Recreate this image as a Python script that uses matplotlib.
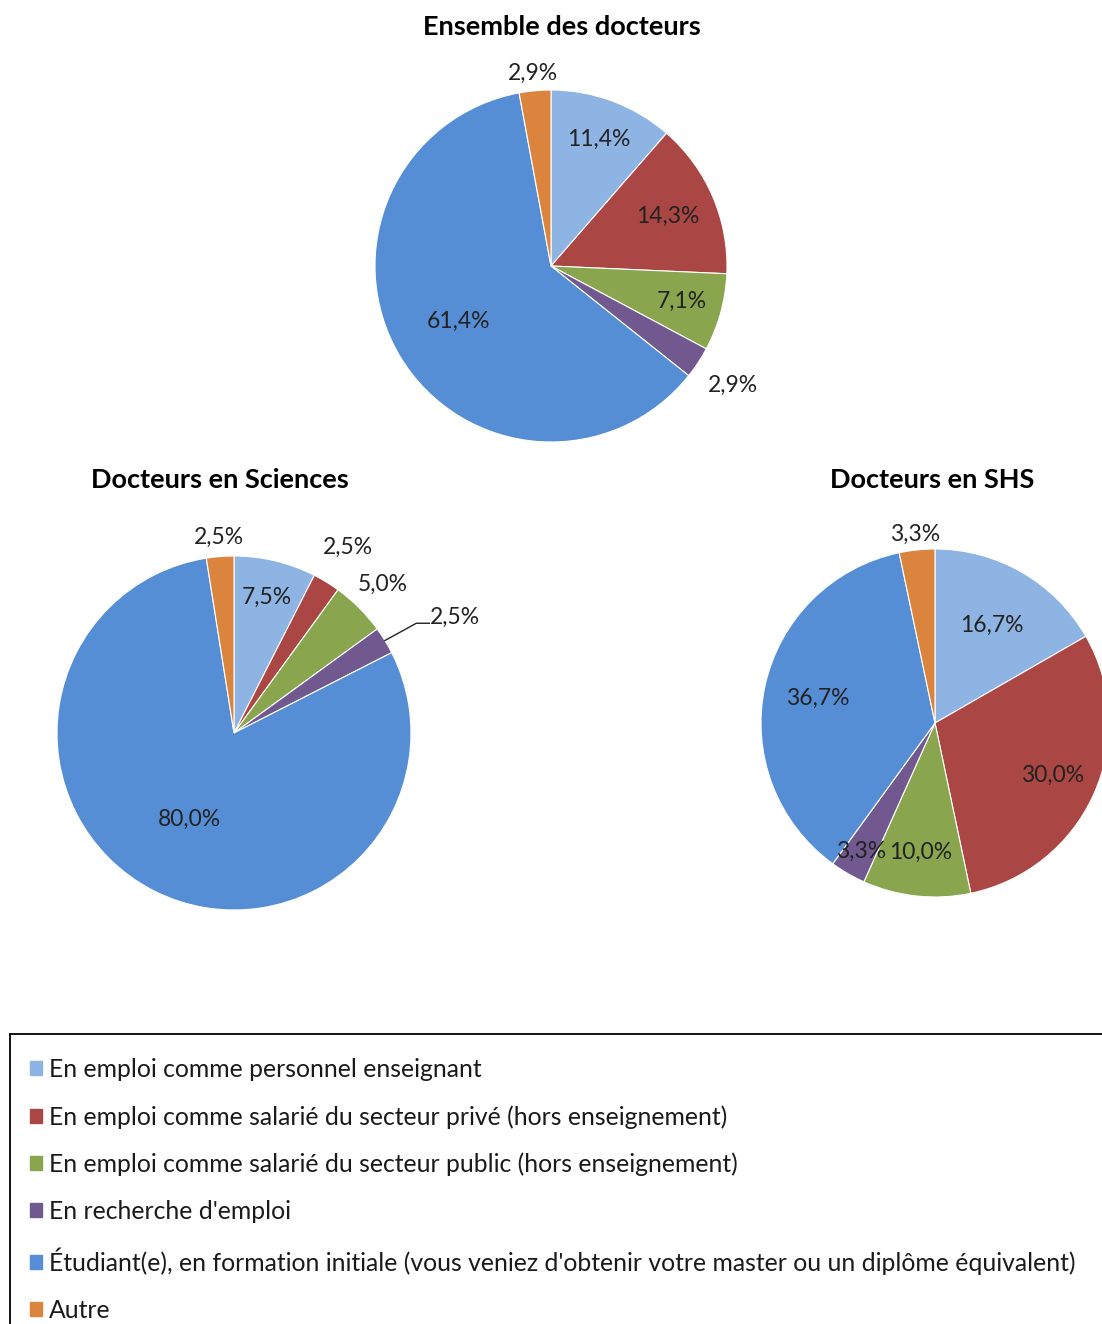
import numpy as np
import matplotlib
matplotlib.use("Agg")
from matplotlib import pyplot as plt
from matplotlib.patches import Rectangle

plt.rcParams['font.family'] = ['Lato', 'DejaVu Sans']

categories = ["En emploi comme personnel enseignant",
              "En emploi comme salarié du secteur privé (hors enseignement)",
              "En emploi comme salarié du secteur public (hors enseignement)",
              "En recherche d'emploi",
              "Étudiant(e), en formation initiale (vous veniez d'obtenir votre master ou un diplôme équivalent)",
              "Autre"]
colors = ['#8EB4E3', '#AA4643', '#89A54E', '#71588F', '#558ED5', '#DB843D']

titles = ['Ensemble des docteurs', 'Docteurs en Sciences', 'Docteurs en SHS']
ensemble = [11.4, 14.3, 7.1, 2.9, 61.4, 2.9]
sciences = [7.5, 2.5, 5.0, 2.5, 80.0, 2.5]
shs = [16.7, 30.0, 10.0, 3.3, 36.7, 3.3]

W, H = 1102, 1324
fig = plt.figure(figsize=(W / 100, H / 100), dpi=100)
ax = fig.add_axes([0, 0, 1, 1])

# pie layout in pixels: center x, center y (from top), radius, title x, title y
layout = [(551, 266, 176, 562, 27),
          (234, 733, 177, 220, 480),
          (935, 723, 174, 932, 480)]
# distance of each percentage label from the center, as a fraction of the radius
label_r = [[0.77, 0.72, 0.77, 1.24, 0.61, 1.10],
           [0.79, 1.23, 1.19, 1.42, 0.55, 1.11],
           [0.65, 0.74, 0.75, 0.85, 0.69, 1.09]]

for k, vals in enumerate([ensemble, sciences, shs]):
    cx, cy, r, tx, ty = layout[k]
    cy = H - cy
    wedges, _ = ax.pie(vals, colors=colors, startangle=90, counterclock=False,
                       center=(cx, cy), radius=r, frame=True,
                       wedgeprops=dict(edgecolor='white', linewidth=0.8))
    ax.text(tx, H - ty, titles[k], ha='center', va='center', fontsize=19.5,
            fontweight='bold', color='black')
    for i, (w, v) in enumerate(zip(wedges, vals)):
        ang = np.deg2rad((w.theta1 + w.theta2) / 2)
        d = label_r[k][i] * r
        lbl = ('%.1f%%' % v).replace('.', ',')
        if k == 1 and i == 3:
            # small slice with a leader line
            x0, y0 = cx + r * np.cos(ang), cy + r * np.sin(ang)
            ex, ey = cx + 1.03 * r, cy + 0.62 * r
            ax.plot([x0, ex, ex + 13], [y0, ey, ey], color='#222222', lw=1)
            ax.text(ex + 14, ey + 6, lbl, ha='left', va='center',
                    fontsize=16.5, color='#222222')
            continue
        ax.text(cx + d * np.cos(ang), cy + d * np.sin(ang), lbl,
                ha='center', va='center', fontsize=16.5, color='#222222')

ax.set_xlim(0, W)
ax.set_ylim(0, H)
ax.axis('off')

# legend box runs off the right and bottom edges
fig.patches.append(Rectangle((10 / W, -0.1), 1.2, 0.1 + (H - 1034) / H,
                             transform=fig.transFigure, fill=False,
                             edgecolor='black', linewidth=1.3))
handles = [plt.Rectangle((0, 0), 1, 1, color=c) for c in colors]
fig.legend(handles, categories, loc='upper left',
           bbox_to_anchor=(30 / W, 1 - 1058 / H), frameon=False,
           fontsize=17.8, handlelength=0.5, handleheight=0.5,
           handletextpad=0.25, labelspacing=0.97, borderaxespad=0,
           borderpad=0, labelcolor='#1a1a1a')

fig.savefig('out.png', dpi=100)
